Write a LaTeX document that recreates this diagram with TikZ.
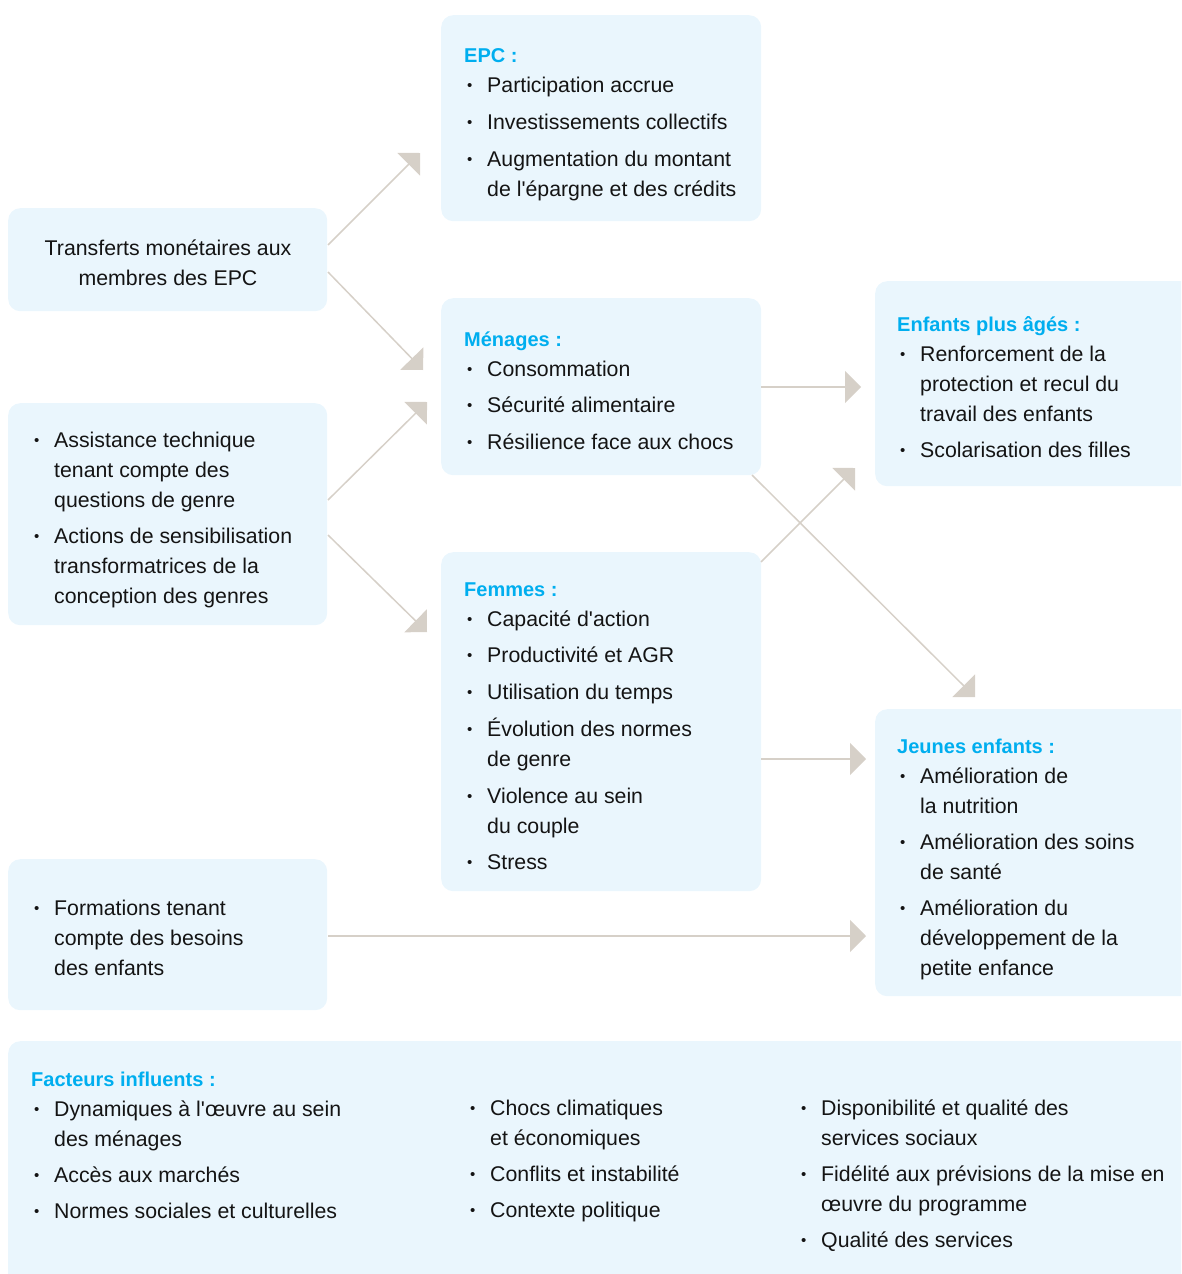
\documentclass[tikz,border=0pt]{standalone}
\usepackage{fontspec}
\setmainfont{Liberation Sans}
\usetikzlibrary{arrows.meta}
\definecolor{boxfill}{HTML}{EAF6FD}
\definecolor{ttlblue}{HTML}{00AEEF}
\definecolor{bodyc}{HTML}{141414}
\definecolor{arrowc}{HTML}{D6D0C8}
\newcommand{\bodyfont}{\fontsize{21.3}{30}\selectfont}
\newcommand{\ttl}[1]{\multicolumn{2}{@{}l@{}}{\fontsize{20}{30}\selectfont\bfseries\color{ttlblue}#1}}
\newcommand{\bu}{\hspace{3pt}{\fontsize{15}{15}\selectfont\raisebox{1.5pt}{\textbullet}}}
\newcommand{\ap}{\textquotesingle}
\begin{document}
\begin{tikzpicture}[x=1pt,y=-1pt,
  box/.style={fill=boxfill, rounded corners=12pt, anchor=north west, inner sep=0pt, draw=none},
  txt/.style={inner sep=0pt, font=\bodyfont, text=bodyc, anchor=base west},
  conn/.style={draw=arrowc, line width=1.5pt, -{Triangle[length=16pt,width=32pt,fill=arrowc,color=arrowc]}}]
\useasboundingbox (0,0) rectangle (1181,1274);
\clip (0,0) rectangle (1181,1274);
% boxes
\node[box, minimum width=320pt, minimum height=206pt] (epc) at (441,15) {};
\node[box, minimum width=319pt, minimum height=103pt] (trans) at (8,208) {};
\node[box, minimum width=320pt, minimum height=177pt] (men) at (441,298) {};
\node[box, minimum width=330pt, minimum height=205pt] (enf) at (875,281) {};
\node[box, minimum width=319pt, minimum height=222pt] (assist) at (8,403) {};
\node[box, minimum width=320pt, minimum height=339pt] (fem) at (441,552) {};
\node[box, minimum width=330pt, minimum height=287pt] (jeun) at (875,709) {};
\node[box, minimum width=319pt, minimum height=151pt] (form) at (8,859) {};
\node[box, minimum width=1200pt, minimum height=260pt] (fact) at (8,1041) {};
% texts
\node[txt] (epcT) at (464,62) {\begin{tabular}[t]{@{}p{23pt}@{}l@{}}
\ttl{EPC :}\\
\bu & Participation accrue\\[7pt]
\bu & Investissements collectifs\\[7pt]
\bu & Augmentation du montant\\
 & de l\ap épargne et des crédits
\end{tabular}};
\node[txt, anchor=base] (transT) at (168,255) {\begin{tabular}[t]{@{}c@{}}
Transferts monétaires aux\\ membres des EPC\end{tabular}};
\node[txt] (menT) at (464,346) {\begin{tabular}[t]{@{}p{23pt}@{}l@{}}
\ttl{Ménages :}\\
\bu & Consommation\\[6pt]
\bu & Sécurité alimentaire\\[7pt]
\bu & Résilience face aux chocs
\end{tabular}};
\node[txt] (enfT) at (897,331) {\begin{tabular}[t]{@{}p{23pt}@{}l@{}}
\ttl{Enfants plus âgés :}\\
\bu & Renforcement de la\\
 & protection et recul du\\
 & travail des enfants\\[6pt]
\bu & Scolarisation des filles
\end{tabular}};
\node[txt] (assistT) at (31,447) {\begin{tabular}[t]{@{}p{23pt}@{}l@{}}
\bu & Assistance technique\\
 & tenant compte des\\
 & questions de genre\\[6pt]
\bu & Actions de sensibilisation\\
 & transformatrices de la\\
 & conception des genres
\end{tabular}};
\node[txt] (femT) at (464,596) {\begin{tabular}[t]{@{}p{23pt}@{}l@{}}
\ttl{Femmes :}\\
\bu & Capacité d\ap action\\[6pt]
\bu & Productivité et AGR\\[7pt]
\bu & Utilisation du temps\\[7pt]
\bu & Évolution des normes\\
 & de genre\\[7pt]
\bu & Violence au sein\\
 & du couple\\[6pt]
\bu & Stress
\end{tabular}};
\node[txt] (jeunT) at (897,753) {\begin{tabular}[t]{@{}p{23pt}@{}l@{}}
\ttl{Jeunes enfants :}\\
\bu & Amélioration de\\
 & la nutrition\\[6pt]
\bu & Amélioration des soins\\
 & de santé\\[6pt]
\bu & Amélioration du\\
 & développement de la\\
 & petite enfance
\end{tabular}};
\node[txt] (formT) at (31,915) {\begin{tabular}[t]{@{}p{23pt}@{}l@{}}
\bu & Formations tenant\\
 & compte des besoins\\
 & des enfants
\end{tabular}};
\node[txt] (factT) at (31,1086) {\begin{tabular}[t]{@{}p{23pt}@{}l@{}}
\ttl{Facteurs influents :}\\
\bu & Dynamiques à l\ap œuvre au sein\\
 & des ménages\\[6pt]
\bu & Accès aux marchés\\[6pt]
\bu & Normes sociales et culturelles
\end{tabular}};
\node[txt] (factT2) at (467,1115) {\begin{tabular}[t]{@{}p{23pt}@{}l@{}}
\bu & Chocs climatiques\\
 & et économiques\\[6pt]
\bu & Conflits et instabilité\\[6pt]
\bu & Contexte politique
\end{tabular}};
\node[txt] (factT3) at (798,1115) {\begin{tabular}[t]{@{}p{23pt}@{}l@{}}
\bu & Disponibilité et qualité des\\
 & services sociaux\\[6pt]
\bu & Fidélité aux prévisions de la mise en\\
 & œuvre du programme\\[6pt]
\bu & Qualité des services
\end{tabular}};
% connector end points
\coordinate (a1s) at (328,245); \coordinate (a1e) at (420,153);
\coordinate (a2s) at (328,272); \coordinate (a2e) at (423,370);
\coordinate (a3s) at (328,500); \coordinate (a3e) at (427,402);
\coordinate (a4s) at (328,535); \coordinate (a4e) at (427,632);
\coordinate (a5s) at (761,387); \coordinate (a5e) at (861,387);
\coordinate (a6s) at (761,562); \coordinate (a6e) at (855,468);
\coordinate (a7s) at (752,475); \coordinate (a7e) at (975,697);
\coordinate (a8s) at (761,759); \coordinate (a8e) at (866,759);
\coordinate (a9s) at (328,936); \coordinate (a9e) at (866,936);
\draw[conn] (a1s) -- (a1e);
\draw[conn] (a2s) -- (a2e);
\draw[conn] (a3s) -- (a3e);
\draw[conn] (a4s) -- (a4e);
\draw[conn] (a5s) -- (a5e);
\draw[conn] (a6s) -- (a6e);
\draw[conn] (a7s) -- (a7e);
\draw[conn] (a8s) -- (a8e);
\draw[conn] (a9s) -- (a9e);
\end{tikzpicture}
\end{document}
